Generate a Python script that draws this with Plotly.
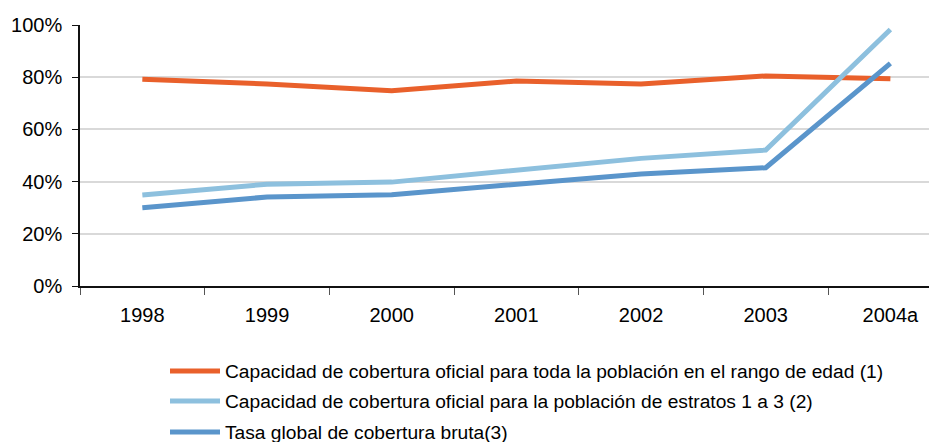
import plotly.graph_objects as go

categories = ["1998", "1999", "2000", "2001", "2002", "2003", "2004a"]
serie_toda = [79.2, 77.4, 74.8, 78.5, 77.4, 80.5, 79.4]
serie_estratos = [34.9, 39.0, 39.8, 44.3, 48.9, 52.1, 98.3]
serie_bruta = [30.0, 34.1, 35.0, 38.9, 42.9, 45.3, 85.3]
names = [
    "Capacidad de cobertura oficial para toda la población en el rango de edad (1)",
    "Capacidad de cobertura oficial para la población de estratos 1 a 3 (2)",
    "Tasa global de cobertura bruta(3)",
]
colors = ["#E9602B", "#8DC0DE", "#5A95CB"]
yticks = [0, 20, 40, 60, 80, 100]
ytick_text = ["0%", "20%", "40%", "60%", "80%", "100%"]

W, H = 937, 442
OFF = 8  # page body margin offset
fig = go.Figure()
series = [serie_toda, serie_estratos, serie_bruta]
legend_ids = ["legend", "legend2", "legend3"]
for s, n, c, lg in zip(series, names, colors, legend_ids):
    fig.add_trace(go.Scatter(x=categories, y=s, name=n, mode="lines",
                             line=dict(color=c, width=5), legend=lg))

FAM = "Liberation Sans, Arial, sans-serif"
font = dict(family=FAM, color="#000000")
leg_common = dict(xref="container", yref="container", xanchor="left", yanchor="middle",
                  font=dict(family=FAM, size=19.2, color="#000"),
                  bgcolor="rgba(0,0,0,0)", itemwidth=50)
legend_y = [371, 401, 432]
layouts = {}
for lg, yy in zip(legend_ids, legend_y):
    layouts[lg] = dict(leg_common, x=(165 - OFF) / W, y=1 - (yy - OFF) / H)

fig.update_layout(
    width=W, height=H,
    margin=dict(l=80 - OFF, r=0, t=25 - OFF, b=H - (286 - OFF), autoexpand=False),
    plot_bgcolor="white", paper_bgcolor="white",
    font=font,
    showlegend=True,
    **layouts,
    xaxis=dict(type="category", range=[-0.5, 6.438], showgrid=False,
               showline=True, linecolor="#111", linewidth=1.5,
               ticks="outside", tickson="boundaries", ticklen=7, tickcolor="#555",
               tickangle=0,
               tickfont=dict(size=20, family=FAM),
               ticklabelstandoff=10),
    yaxis=dict(range=[0, 100], tickvals=yticks, ticktext=ytick_text,
               showgrid=True, gridcolor="#D9D9D9", gridwidth=1.5,
               showline=True, linecolor="#111", linewidth=1.5,
               ticks="outside", ticklen=6, tickcolor="#111",
               tickfont=dict(size=20, family=FAM),
               ticklabelstandoff=6, zeroline=False),
)
fig.write_html("out.html")
